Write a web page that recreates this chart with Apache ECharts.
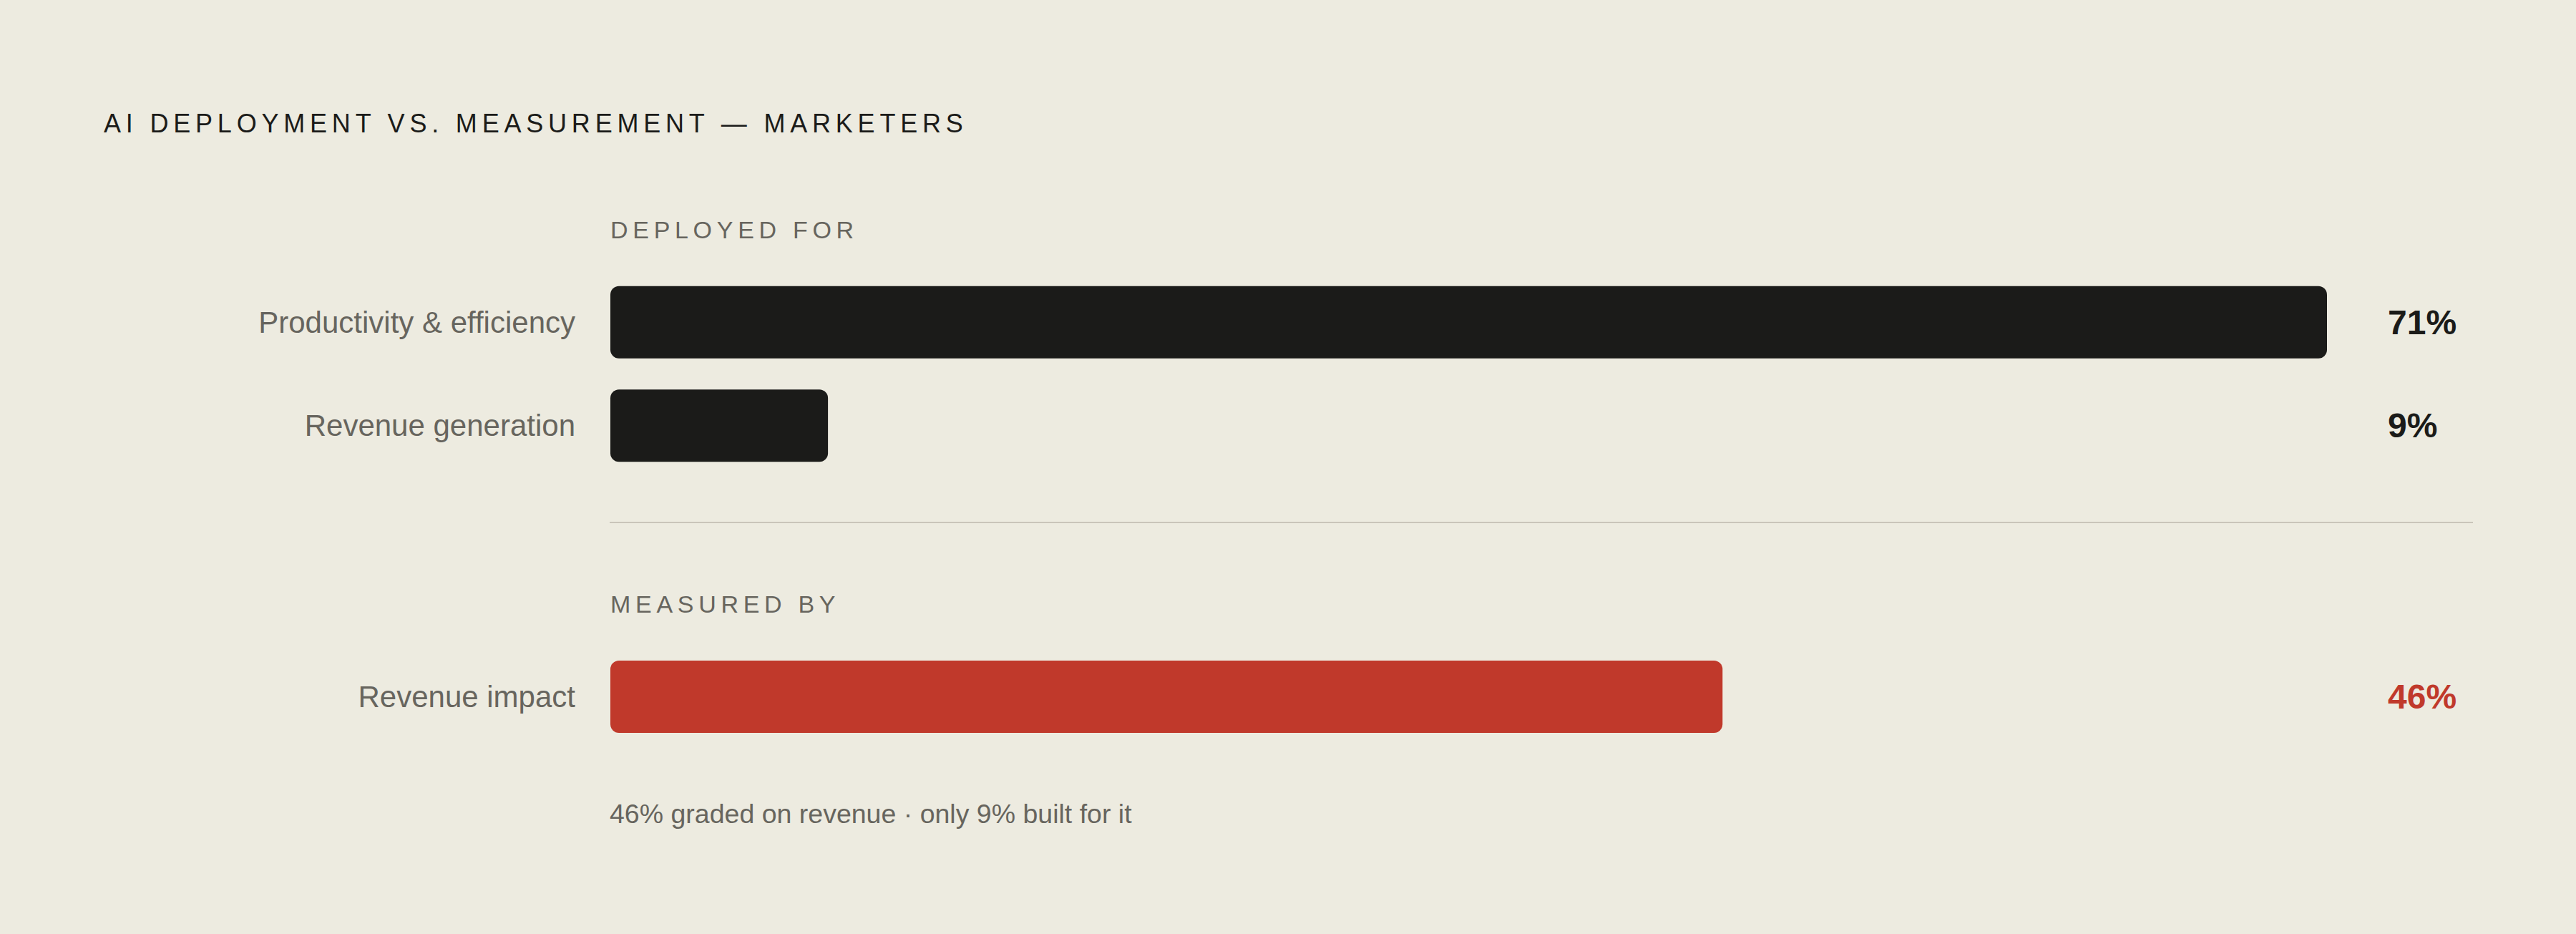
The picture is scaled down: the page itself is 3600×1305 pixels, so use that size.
<!DOCTYPE html>
<html><head><meta charset="utf-8">
<script src="https://cdn.jsdelivr.net/npm/echarts@6/dist/echarts.min.js"></script>
<style>html,body{margin:0;padding:0;background:#edebe0;}#c{width:3600px;height:1305px;}</style>
</head><body><div id="c"></div>
<script>
const titleText = 'AI DEPLOYMENT VS. MEASUREMENT \u2014 MARKETERS';
const deployedHeader = 'DEPLOYED FOR';
const measuredHeader = 'MEASURED BY';
const footnote = '46% graded on revenue \u00b7 only 9% built for it';
const deployedCategories = ['Productivity & efficiency', 'Revenue generation'];
const deployedValues = [71, 9];
const measuredCategories = ['Revenue impact'];
const measuredValues = [46];
const axisMax = 71;

const FONT = '"Liberation Sans", Arial, Helvetica, sans-serif';
const INK = '#1b1b19';
const GREY = '#67655e';
const RED = '#c0392b';
const BG = '#edebe0';

const chart = echarts.init(document.getElementById('c'), null, {renderer: 'svg', width: 3600, height: 1305});

function xAx(gi) {
  return {gridIndex: gi, type: 'value', min: 0, max: axisMax, show: false};
}
function leftY(gi, cats) {
  return {gridIndex: gi, type: 'category', data: cats, inverse: true, position: 'left',
    axisLine: {show: false}, axisTick: {show: false}, splitLine: {show: false},
    axisLabel: {margin: 49, fontSize: 42, fontFamily: FONT, color: GREY}};
}
function rightY(gi, vals, color) {
  return {gridIndex: gi, type: 'category', data: vals.map(v => v + '%'), inverse: true, position: 'right',
    axisLine: {show: false}, axisTick: {show: false}, splitLine: {show: false},
    axisLabel: {margin: 85, align: 'left', fontSize: 48, fontWeight: 'bold', fontFamily: FONT, color: color}};
}

chart.setOption({
  backgroundColor: BG,
  animation: false,
  grid: [
    {left: 853, right: 348, top: 378, height: 289},
    {left: 853, right: 348, top: 901, height: 145}
  ],
  xAxis: [xAx(0), xAx(1)],
  yAxis: [leftY(0, deployedCategories), rightY(0, deployedValues, INK),
          leftY(1, measuredCategories), rightY(1, measuredValues, RED)],
  series: [
    {type: 'bar', xAxisIndex: 0, yAxisIndex: 0, data: deployedValues, barWidth: 101,
     itemStyle: {color: INK, borderRadius: 12}, silent: true},
    {type: 'bar', xAxisIndex: 1, yAxisIndex: 2, data: measuredValues, barWidth: 101,
     itemStyle: {color: RED, borderRadius: 12}, silent: true}
  ],
  graphic: [
    {type: 'text', x: 145, y: 172, style: {text: titleText, fontSize: 36, fontFamily: FONT, fill: INK, verticalAlign: 'middle'}},
    {type: 'text', x: 853, y: 321, style: {text: deployedHeader, fontSize: 34, fontFamily: FONT, fill: GREY, verticalAlign: 'middle'}},
    {type: 'text', x: 853, y: 843.5, style: {text: measuredHeader, fontSize: 34, fontFamily: FONT, fill: GREY, verticalAlign: 'middle'}},
    {type: 'line', shape: {x1: 852, y1: 730, x2: 3456, y2: 730}, style: {stroke: '#c9c5ba', lineWidth: 2}},
    {type: 'text', x: 852, y: 1137, style: {text: footnote, fontSize: 37.5, fontFamily: FONT, fill: GREY, verticalAlign: 'middle'}}
  ]
});

function spaceOut() {
  const spacing = {};
  spacing[titleText] = '6.8px';
  spacing[deployedHeader] = '6.7px';
  spacing[measuredHeader] = '6.7px';
  document.querySelectorAll('#c svg text').forEach(t => {
    const s = spacing[t.textContent];
    if (s) t.setAttribute('letter-spacing', s);
  });
}
spaceOut();
chart.on('finished', spaceOut);
</script></body></html>
